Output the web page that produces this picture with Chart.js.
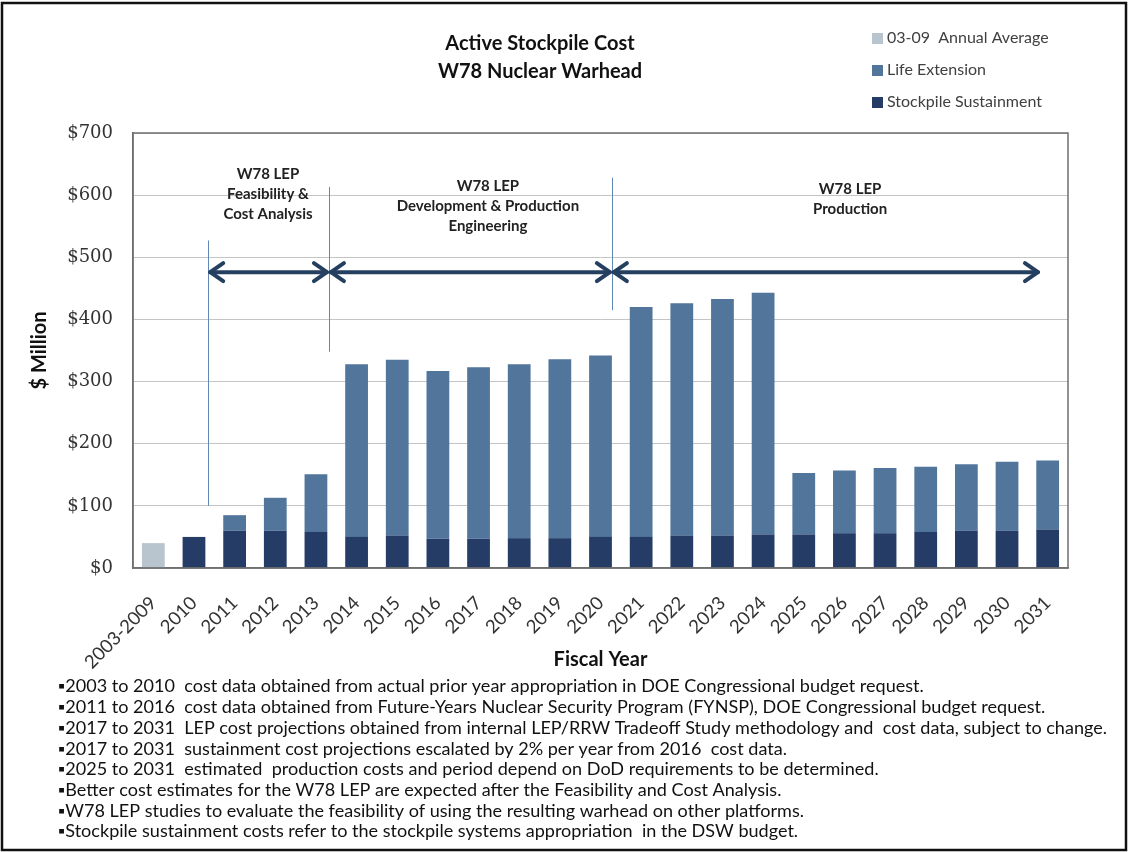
<!DOCTYPE html>
<html>
<head>
<meta charset="utf-8">
<script src="https://cdn.jsdelivr.net/npm/chart.js@4.4.1/dist/chart.umd.min.js"></script>
<style>
  html, body { margin: 0; padding: 0; background: #fff; }
  #wrap { width: 1129px; height: 852px; }
</style>
</head>
<body>
<div id="wrap"><canvas id="myChart" width="1129" height="852"></canvas></div>
<script>
// datos ($ millones)
const categorias = ["2003-2009", "2010", "2011", "2012", "2013", "2014", "2015", "2016", "2017", "2018", "2019",
  "2020", "2021", "2022", "2023", "2024", "2025", "2026", "2027", "2028", "2029", "2030", "2031"];
const promedio = [40, null, null, null, null, null, null, null, null, null, null, null,
  null, null, null, null, null, null, null, null, null, null, null];
const sostenimiento = [null, 50, 60, 60, 58, 50, 52, 47, 47, 48, 48, 50, 50, 52, 52, 54, 54, 56, 56, 58, 60, 60, 62];
const extension = [null, null, 25, 53, 93, 278, 283, 270, 276, 280, 288, 292, 370, 374, 381, 389, 99, 101, 105, 105, 107, 111, 111];
const yTicks = [0, 100, 200, 300, 400, 500, 600, 700];

const titulo = ["Active Stockpile Cost", "W78 Nuclear Warhead"];
const notas = [
  "\u25AA2003 to 2010  cost data obtained from actual prior year appropriation in DOE Congressional budget request.",
  "\u25AA2011 to 2016  cost data obtained from Future-Years Nuclear Security Program (FYNSP), DOE Congressional budget request.",
  "\u25AA2017 to 2031  LEP cost projections obtained from internal LEP/RRW Tradeoff Study methodology and  cost data, subject to change.",
  "\u25AA2017 to 2031  sustainment cost projections escalated by 2% per year from 2016  cost data.",
  "\u25AA2025 to 2031  estimated  production costs and period depend on DoD requirements to be determined.",
  "\u25AABetter cost estimates for the W78 LEP are expected after the Feasibility and Cost Analysis.",
  "\u25AAW78 LEP studies to evaluate the feasibility of using the resulting warhead on other platforms.",
  "\u25AAStockpile sustainment costs refer to the stockpile systems appropriation  in the DSW budget."
];

// fases del LEP (en unidades de categoria / $M)
const fases = [
  { x: 1.35, desde: 100, hasta: 527 },
  { x: 4.32, desde: 348, hasta: 613 },
  { x: 11.28, desde: 415, hasta: 628 }
];
const flechas = [[1.35, 4.32], [4.32, 11.28], [11.28, 21.81]];
const flechaY = 476;
const etiquetasFase = [
  { x: 2.82, y: 634, lineas: ["W78 LEP", "Feasibility &", "Cost Analysis"] },
  { x: 8.23, y: 615, lineas: ["W78 LEP", "Development & Production", "Engineering"] },
  { x: 17.14, y: 610, lineas: ["W78 LEP", "Production"] }
];

const colores = { promedio: "#b8c4ce", extension: "#51759b", sostenimiento: "#243c66" };

// fondo y marco
const marco = {
  id: "marco",
  beforeDraw(chart) {
    const c = chart.ctx;
    c.save();
    c.fillStyle = "#fff";
    c.fillRect(0, 0, chart.width, chart.height);
    c.strokeStyle = "#111";
    c.lineWidth = 2.5;
    c.strokeRect(2, 3, chart.width - 5, chart.height - 5);
    c.restore();
  },
  afterDatasetsDraw(chart) {
    const c = chart.ctx;
    const a = chart.chartArea;
    const x = chart.scales.x, y = chart.scales.y;
    c.save();
    c.strokeStyle = "#6f6f6f";
    c.lineWidth = 1.5;
    c.strokeRect(a.left, a.top, a.right - a.left, a.bottom - a.top);

    // lineas verticales de fase
    c.strokeStyle = "#5f88b4";
    c.lineWidth = 1;
    fases.forEach((f) => {
      const px = Math.round(x.getPixelForValue(f.x)) + 0.5;
      c.beginPath();
      c.moveTo(px, y.getPixelForValue(f.desde));
      c.lineTo(px, y.getPixelForValue(f.hasta));
      c.stroke();
    });

    // flechas dobles
    c.strokeStyle = "#243f60";
    c.lineWidth = 4;
    c.lineCap = "round";
    c.lineJoin = "round";
    const py = y.getPixelForValue(flechaY);
    flechas.forEach(([x1, x2]) => {
      const p1 = x.getPixelForValue(x1) + 2, p2 = x.getPixelForValue(x2) - 2;
      c.beginPath();
      c.moveTo(p1, py);
      c.lineTo(p2, py);
      c.stroke();
      c.beginPath();
      c.moveTo(p1 + 13, py - 9);
      c.lineTo(p1, py);
      c.lineTo(p1 + 13, py + 9);
      c.moveTo(p2 - 13, py - 9);
      c.lineTo(p2, py);
      c.lineTo(p2 - 13, py + 9);
      c.stroke();
    });

    // textos de fase
    c.fillStyle = "#222";
    c.font = "bold 15px Lato";
    c.textAlign = "center";
    c.textBaseline = "middle";
    etiquetasFase.forEach((e) => {
      const px = x.getPixelForValue(e.x);
      const top = y.getPixelForValue(e.y);
      e.lineas.forEach((t, i) => c.fillText(t, px, top + i * 20));
    });
    c.restore();
  },
  afterDraw(chart) {
    const c = chart.ctx;
    c.save();
    // titulo
    c.fillStyle = "#111";
    c.font = "bold 20px Lato";
    c.textAlign = "center";
    c.textBaseline = "middle";
    titulo.forEach((t, i) => c.fillText(t, 540, 44 + i * 28));

    // leyenda (orden como Excel)
    const orden = [0, 2, 1];
    c.font = "16px Lato";
    c.textAlign = "left";
    orden.forEach((idx, i) => {
      const ds = chart.data.datasets[idx];
      const yy = 38 + i * 32;
      c.fillStyle = ds.backgroundColor;
      c.fillRect(872, yy - 5, 11, 11);
      c.fillStyle = "#404040";
      c.fillText(ds.label, 887, yy);
    });

    // notas al pie
    c.fillStyle = "#111";
    c.font = "17px Lato";
    const ancho = Math.max(...notas.map((n) => c.measureText(n).width));
    const sx = 1049 / ancho;
    notas.forEach((n, i) => {
      c.save();
      c.translate(58, 687 + i * 20.7);
      c.scale(sx, 1);
      c.fillText(n, 0, 0);
      c.restore();
    });
    c.restore();
  }
};

const ctx = document.querySelector("#myChart");
const grafica = new Chart(ctx, {
  type: "bar",
  data: {
    labels: categorias,
    datasets: [
      { label: "03-09  Annual Average", data: promedio, backgroundColor: colores.promedio },
      { label: "Stockpile Sustainment", data: sostenimiento, backgroundColor: colores.sostenimiento },
      { label: "Life Extension", data: extension, backgroundColor: colores.extension }
    ]
  },
  options: {
    responsive: false,
    animation: false,
    devicePixelRatio: 1,
    layout: { padding: { left: 10, right: 61, top: 133, bottom: 180 } },
    datasets: { bar: { barPercentage: 0.56, categoryPercentage: 1, borderWidth: 0 } },
    plugins: { legend: { display: false }, title: { display: false }, tooltip: { enabled: false } },
    scales: {
      x: {
        stacked: true,
        grid: { display: false, drawTicks: false },
        border: { color: "#6f6f6f", width: 1.5 },
        ticks: { autoSkip: false, minRotation: 45, maxRotation: 45, padding: 24, color: "#333", font: { family: "Lato", size: 18.5 } },
        title: { display: true, text: "Fiscal Year", color: "#111", font: { family: "Lato", size: 20, weight: "bold" }, padding: { top: 0, bottom: 0 } },
        afterFit: (s) => { s.height = 104; }
      },
      y: {
        stacked: true,
        min: 0,
        max: 700,
        afterBuildTicks: (s) => { s.ticks = yTicks.map((v) => ({ value: v })); },
        grid: { color: "#c4c4c4", lineWidth: 1, drawTicks: false },
        border: { color: "#6f6f6f", width: 1.5 },
        ticks: { padding: 20, color: "#333", font: { family: "DejaVu Serif", size: 18 }, callback: (v) => "$" + v },
        title: { display: true, text: "$ Million", color: "#111", font: { family: "Lato", size: 20, weight: "bold" }, padding: { top: 18, bottom: 0 } },
        afterFit: (s) => { s.width = 123; }
      }
    }
  },
  plugins: [marco]
});
</script>
</body>
</html>
